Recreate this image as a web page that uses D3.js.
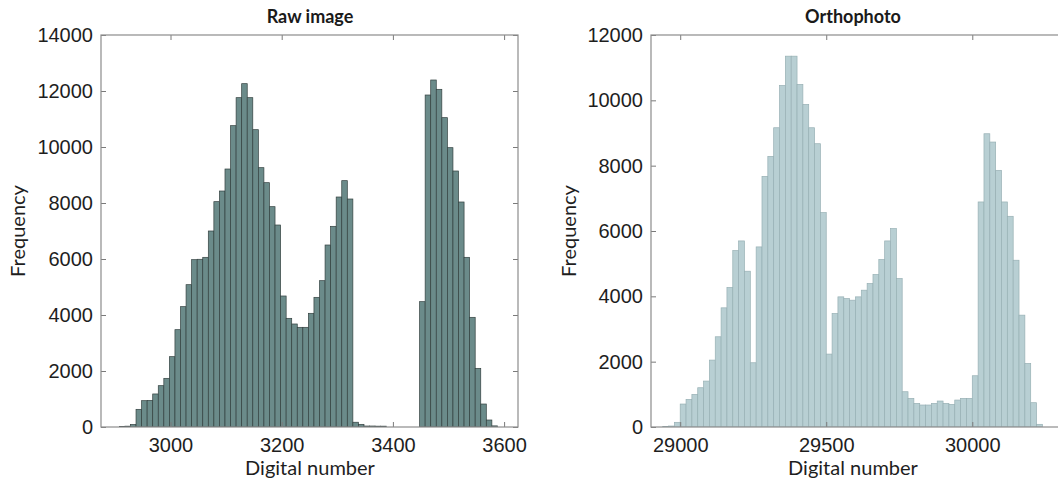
<!DOCTYPE html>
<html>
<head>
<meta charset="utf-8">
<script src="https://cdn.jsdelivr.net/npm/d3@7"></script>
<style>
  html, body { margin: 0; padding: 0; background: #fff; }
  svg { display: block; font-family: "Lato", "Open Sans", sans-serif; }
</style>
</head>
<body>
<svg id="chart" width="1058" height="488"></svg>
<script>
// Histogram of the raw image digital numbers (bin width 10)
const rawBinStart = 2908;
const rawBinWidth = 10;
const rawCounts = [
  15, 30, 90, 631, 940, 950, 1180, 1476, 1738, 2512,
  3476, 4298, 5083, 5976, 5990, 6060, 7000, 8048, 8428, 9214,
  10762, 11762, 12262, 11762, 10619, 9262, 8726, 7869, 7214, 4679,
  3881, 3679, 3560, 3560, 4060, 4631, 5226, 6500, 7167, 8214,
  8798, 8143, 170, 95, 35, 35, 30, 30, 0, 0,
  0, 0, 0, 0, 4476, 11857, 12393, 12060, 11048, 9976,
  9143, 8036, 6060, 3917, 2095, 821, 250, 40
];
const rawXTicks = [3000, 3200, 3400, 3600];
const rawYTicks = [0, 2000, 4000, 6000, 8000, 10000, 12000, 14000];

// Histogram of the orthophoto digital numbers (bin width 20)
const orthoBinStart = 28940;
const orthoBinWidth = 20;
const orthoCounts = [
  15, 30, 143, 703, 846, 999, 1202, 1406, 2048, 2762,
  3648, 4270, 5401, 5696, 4769, 1967, 5513, 7673, 8284, 9161,
  10455, 11352, 11352, 10486, 9874, 9161, 8672, 6562, 2232, 3475,
  3984, 3933, 3882, 3984, 4188, 4392, 4667, 5126, 5696, 6073,
  4545, 1080, 876, 723, 673, 673, 723, 795, 723, 693,
  825, 876, 876, 1569, 6889, 8977, 8723, 7857, 6889, 6450,
  5105, 3424, 1946, 744, 82
];
const orthoXTicks = [29000, 29500, 30000];
const orthoYTicks = [0, 2000, 4000, 6000, 8000, 10000, 12000];

const svg = d3.select("#chart");

function panel(cfg) {
  const x = d3.scaleLinear().domain(cfg.xDomain).range([cfg.left, cfg.right]);
  const y = d3.scaleLinear().domain(cfg.yDomain).range([cfg.bottom, cfg.top]);
  const g = svg.append("g");

  const bins = cfg.counts.map((c, i) => ({
    x0: cfg.binStart + i * cfg.binWidth,
    x1: cfg.binStart + (i + 1) * cfg.binWidth,
    count: c
  }));

  // clip to the axes box
  const clipId = "clip-" + cfg.id;
  svg.append("clipPath").attr("id", clipId)
    .append("rect")
    .attr("x", cfg.left).attr("y", cfg.top)
    .attr("width", cfg.right - cfg.left).attr("height", cfg.bottom - cfg.top);

  g.append("g").attr("clip-path", `url(#${clipId})`)
    .selectAll("rect").data(bins).join("rect")
    .attr("x", d => x(d.x0))
    .attr("y", d => y(d.count))
    .attr("width", d => x(d.x1) - x(d.x0))
    .attr("height", d => y(0) - y(d.count))
    .attr("fill", cfg.fill)
    .attr("stroke", cfg.edge)
    .attr("stroke-width", 0.7);

  const tickLen = -5;
  const styleAxis = sel => {
    sel.select(".domain").remove();
    sel.selectAll(".tick line").attr("stroke", "#7a7a7a");
    sel.selectAll(".tick text")
      .attr("fill", "#1e1e1e")
      .style("font-size", "20px");
  };

  g.append("g").attr("transform", `translate(0,${cfg.bottom})`)
    .call(d3.axisBottom(x).tickValues(cfg.xTicks).tickFormat(d3.format("d"))
      .tickSizeInner(tickLen).tickSizeOuter(0).tickPadding(11))
    .call(styleAxis);
  g.append("g").attr("transform", `translate(0,${cfg.top})`)
    .call(d3.axisTop(x).tickValues(cfg.xTicks).tickFormat("")
      .tickSizeInner(tickLen).tickSizeOuter(0))
    .call(styleAxis);
  g.append("g").attr("transform", `translate(${cfg.left},0)`)
    .call(d3.axisLeft(y).tickValues(cfg.yTicks).tickFormat(d3.format("d"))
      .tickSizeInner(tickLen).tickSizeOuter(0).tickPadding(8))
    .call(styleAxis);
  g.append("g").attr("transform", `translate(${cfg.right},0)`)
    .call(d3.axisRight(y).tickValues(cfg.yTicks).tickFormat("")
      .tickSizeInner(tickLen).tickSizeOuter(0))
    .call(styleAxis);

  // axes box
  g.append("rect")
    .attr("x", cfg.left).attr("y", cfg.top)
    .attr("width", cfg.right - cfg.left).attr("height", cfg.bottom - cfg.top)
    .attr("fill", "none").attr("stroke", "#8c8c8c").attr("stroke-width", 1.2);

  g.append("text")
    .attr("x", cfg.titleX).attr("y", 23)
    .attr("text-anchor", "middle")
    .attr("fill", "#1a1a1a")
    .style("font-size", "18px").style("font-weight", 700)
    .text(cfg.title);
  g.append("text")
    .attr("x", cfg.titleX).attr("y", 475)
    .attr("text-anchor", "middle")
    .attr("fill", "#1e1e1e")
    .style("font-size", "20px")
    .text("Digital number");
  g.append("text")
    .attr("transform", `translate(${cfg.yLabelX},${(cfg.top + cfg.bottom) / 2}) rotate(-90)`)
    .attr("text-anchor", "middle")
    .attr("fill", "#1e1e1e")
    .style("font-size", "20px")
    .text("Frequency");
}

panel({
  id: "raw", title: "Raw image",
  left: 101, right: 518, top: 35, bottom: 427,
  xDomain: [2875, 3625], yDomain: [0, 14000],
  xTicks: rawXTicks, yTicks: rawYTicks,
  binStart: rawBinStart, binWidth: rawBinWidth, counts: rawCounts,
  fill: "#6b8b8a", edge: "#33403f",
  titleX: 310, yLabelX: 25
});

panel({
  id: "ortho", title: "Orthophoto",
  left: 651, right: 1064, top: 35, bottom: 427,
  xDomain: [28900, 30314], yDomain: [0, 12000],
  xTicks: orthoXTicks, yTicks: orthoYTicks,
  binStart: orthoBinStart, binWidth: orthoBinWidth, counts: orthoCounts,
  fill: "#b8cfd3", edge: "#97b0b4",
  titleX: 853, yLabelX: 576
});
</script>
</body>
</html>
